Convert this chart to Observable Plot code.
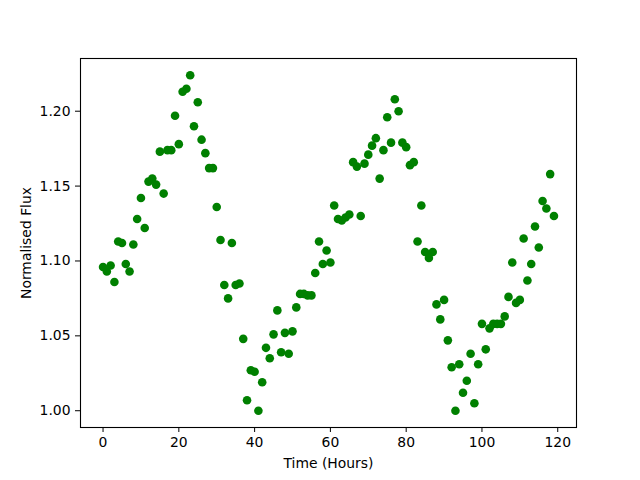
<!DOCTYPE html>
<html>
<head>
<meta charset="utf-8">
<script src="https://cdn.jsdelivr.net/npm/d3@7"></script>
<script src="https://cdn.jsdelivr.net/npm/@observablehq/plot@0.6"></script>
<style>
  html, body { margin: 0; padding: 0; background: #fff; }
</style>
</head>
<body>
<div id="chart"></div>
<script>
const hours = d3.range(0, 120);
const flux = [
  1.096, 1.093, 1.097, 1.086, 1.113, 1.112, 1.098, 1.093, 1.111, 1.128,
  1.142, 1.122, 1.153, 1.155, 1.151, 1.173, 1.145, 1.174, 1.174, 1.197,
  1.178, 1.213, 1.215, 1.224, 1.190, 1.206, 1.181, 1.172, 1.162, 1.162,
  1.136, 1.114, 1.084, 1.075, 1.112, 1.084, 1.085, 1.048, 1.007, 1.027,
  1.026, 1.000, 1.019, 1.042, 1.035, 1.051, 1.067, 1.039, 1.052, 1.038,
  1.053, 1.069, 1.078, 1.078, 1.077, 1.077, 1.092, 1.113, 1.098, 1.107,
  1.099, 1.137, 1.128, 1.127, 1.129, 1.131, 1.166, 1.163, 1.130, 1.165,
  1.171, 1.177, 1.182, 1.155, 1.174, 1.196, 1.179, 1.208, 1.200, 1.179,
  1.176, 1.164, 1.166, 1.113, 1.137, 1.106, 1.102, 1.106, 1.071, 1.061,
  1.074, 1.047, 1.029, 1.000, 1.031, 1.012, 1.020, 1.038, 1.005, 1.031,
  1.058, 1.041, 1.055, 1.058, 1.058, 1.058, 1.063, 1.076, 1.099, 1.072,
  1.074, 1.115, 1.087, 1.098, 1.123, 1.109, 1.140, 1.135, 1.158, 1.130
];
const xTicks = [0, 20, 40, 60, 80, 100, 120];
const yTicks = [1.00, 1.05, 1.10, 1.15, 1.20];
const xLabel = "Time (Hours)";
const yLabel = "Normalised Flux";

const data = hours.map((h, i) => ({hour: h, flux: flux[i]}));

const chart = Plot.plot({
  width: 640,
  height: 480,
  marginLeft: 80,
  marginRight: 64,
  marginTop: 58,
  marginBottom: 53,
  style: {fontFamily: "DejaVu Sans", fontSize: "13.9px", color: "black", background: "white"},
  x: {domain: [-5.95, 124.95]},
  y: {domain: [0.9888, 1.2352]},
  marks: [
    Plot.dot(data, {x: "hour", y: "flux", r: 4.3, fill: "#008000", stroke: "none"}),
    Plot.frame({stroke: "black", strokeWidth: 1.1}),
    Plot.axisX({ticks: xTicks, tickFormat: d => String(d), tickSize: 5, tickPadding: 5,
      label: xLabel, labelAnchor: "center", labelArrow: "none", labelOffset: 40}),
    Plot.axisY({ticks: yTicks, tickFormat: d => d.toFixed(2), tickSize: 5, tickPadding: 5,
      label: yLabel, labelAnchor: "center", labelArrow: "none", labelOffset: 59})
  ]
});
document.getElementById("chart").appendChild(chart);
</script>
</body>
</html>
